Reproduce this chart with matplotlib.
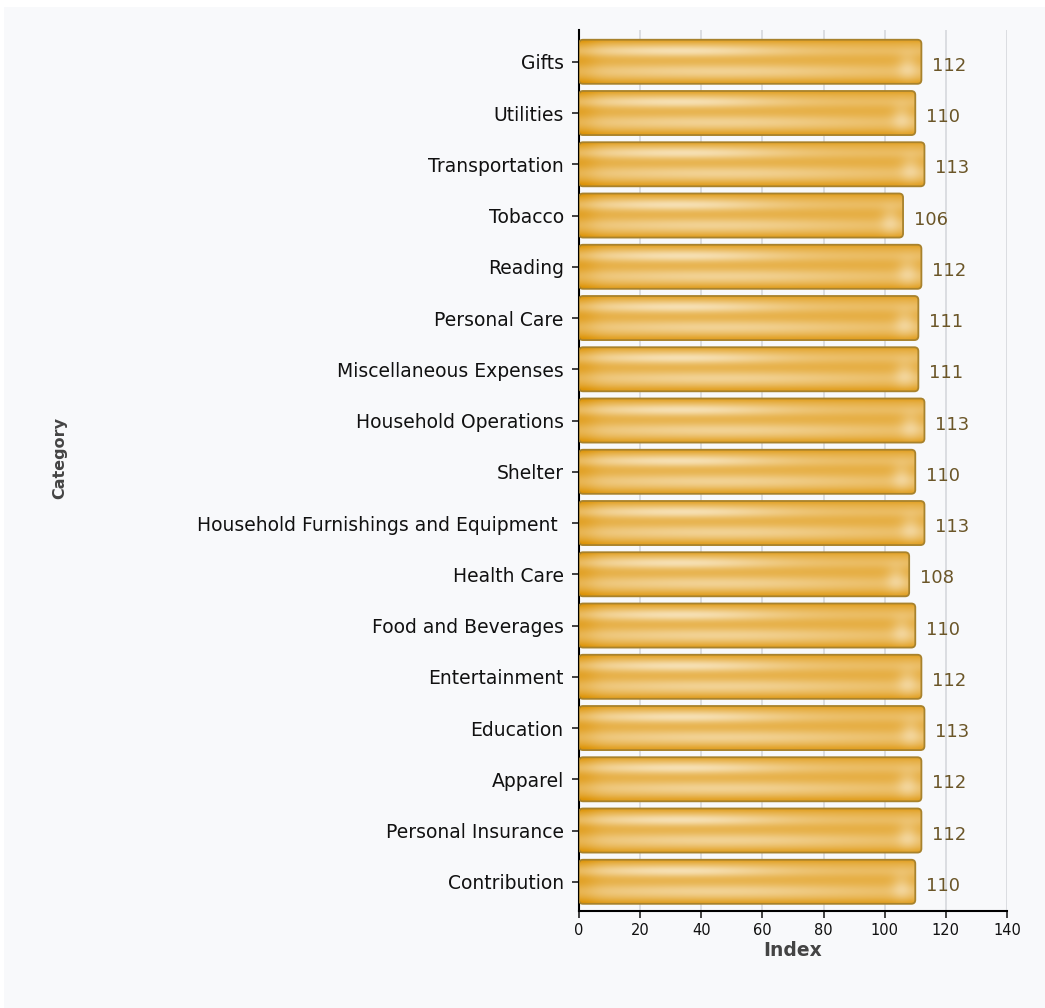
import numpy as np
import matplotlib
matplotlib.use("Agg")
import matplotlib.pyplot as plt
from matplotlib.patches import FancyBboxPatch, Rectangle
from matplotlib.colors import to_rgb

# data, top to bottom as in the chart
categories = ["Gifts", "Utilities", "Transportation", "Tobacco", "Reading",
              "Personal Care", "Miscellaneous Expenses", "Household Operations",
              "Shelter", "Household Furnishings and Equipment ", "Health Care",
              "Food and Beverages", "Entertainment", "Education", "Apparel",
              "Personal Insurance", "Contribution"]
index_values = [112, 110, 113, 106, 112, 111, 111, 113, 110, 113, 108,
                110, 112, 113, 112, 112, 110]
x_ticks = [0, 20, 40, 60, 80, 100, 120, 140]

bg = "#f8f9fb"
base = np.array(to_rgb("#e5ab3c"))
light = np.array(to_rgb("#fcf1da"))
edge = "#a8822c"

W, H = 1045, 1008
fig = plt.figure(figsize=(W / 100, H / 100), dpi=100, facecolor="white")
# light panel behind everything
fig.patches.append(Rectangle((4 / W, 0), 1, 1 - 7 / H, transform=fig.transFigure,
                             facecolor=bg, edgecolor="none", zorder=-10))

ax = fig.add_axes([579 / W, 1 - 911 / H, (1007 - 579) / W, (911 - 30) / H])
ax.patch.set_alpha(0)

n = len(categories)
ypos = np.arange(n)
ylo, yhi = n - 1 + 0.57, -0.62

# gradient texture for the bars (soft glossy look)
ny, nx = 80, 300
t = np.linspace(0, 1, ny)[:, None]
s = np.linspace(0, 1, nx)[None, :]
hl = 0.75 * np.exp(-((t - 0.26) / 0.14) ** 2) * (0.3 + 0.7 * np.exp(-((s - 0.3) / 0.3) ** 2))
glow = 0.55 * np.exp(-((t - 0.72) / 0.17) ** 2) * (0.4 + 0.6 * np.exp(-((s - 0.4) / 0.4) ** 2))
endglow = 0.35 * np.exp(-((s - 0.96) / 0.03) ** 2) * np.exp(-((t - 0.62) / 0.3) ** 2)
leftdark = -0.2 * np.exp(-(s / 0.05) ** 2)
edgedark = -0.2 * (np.exp(-(t / 0.07) ** 2) + np.exp(-((1 - t) / 0.09) ** 2))
mix = np.clip(hl + glow + endglow + leftdark + edgedark, -0.4, 1)
mix = np.broadcast_to(mix, (ny, nx))
tex = base[None, None, :] + mix[..., None] * (light - base)[None, None, :]
tex = np.clip(tex, 0, 1)

bar_h = 0.86
px_x = (1007 - 579) / 140.0
px_y = (911 - 30) / (ylo - yhi)
rad = 4.0
for y, v in zip(ypos, index_values):
    box = FancyBboxPatch((0, y - bar_h / 2), v, bar_h,
                         boxstyle="round,pad=0,rounding_size=%f" % (rad / px_x),
                         mutation_aspect=px_x / px_y,
                         facecolor="none", edgecolor=edge, linewidth=1.3, zorder=4)
    ax.add_patch(box)
    im = ax.imshow(tex, extent=(0, v, y + bar_h / 2, y - bar_h / 2),
                   aspect="auto", interpolation="bicubic", zorder=3)
    im.set_clip_path(box)
    ax.text(v + 3.5, y + 0.08, str(v), ha="left", va="center",
            fontsize=13, color="#6b5628", zorder=5)

ax.set_xlim(0, 140)
ax.set_ylim(ylo, yhi)

ax.set_yticks(ypos)
ax.set_yticklabels(categories, fontsize=13.5, color="#111111")
ax.set_xticks(x_ticks)
ax.set_xticklabels([str(x) for x in x_ticks], fontsize=10.5, color="#111111")
ax.tick_params(axis="both", direction="out", length=5, width=1.2, color="#222222")
ax.tick_params(axis="y", pad=6)

for xv in x_ticks[1:]:
    ax.axvline(xv, color="#d6d8dc", linewidth=1.2, zorder=1)

for sp in ["top", "right"]:
    ax.spines[sp].set_visible(False)
ax.spines["left"].set_linewidth(1.5)
ax.spines["bottom"].set_linewidth(1.5)

ax.set_xlabel("Index", fontsize=13.5, fontweight="bold", color="#444444", labelpad=2)
fig.text(60 / W, 1 - 458 / H, "Category", rotation=90, ha="center", va="center",
         fontsize=11.5, fontweight="bold", color="#444444")

fig.savefig("out.png", dpi=100, facecolor="white")
